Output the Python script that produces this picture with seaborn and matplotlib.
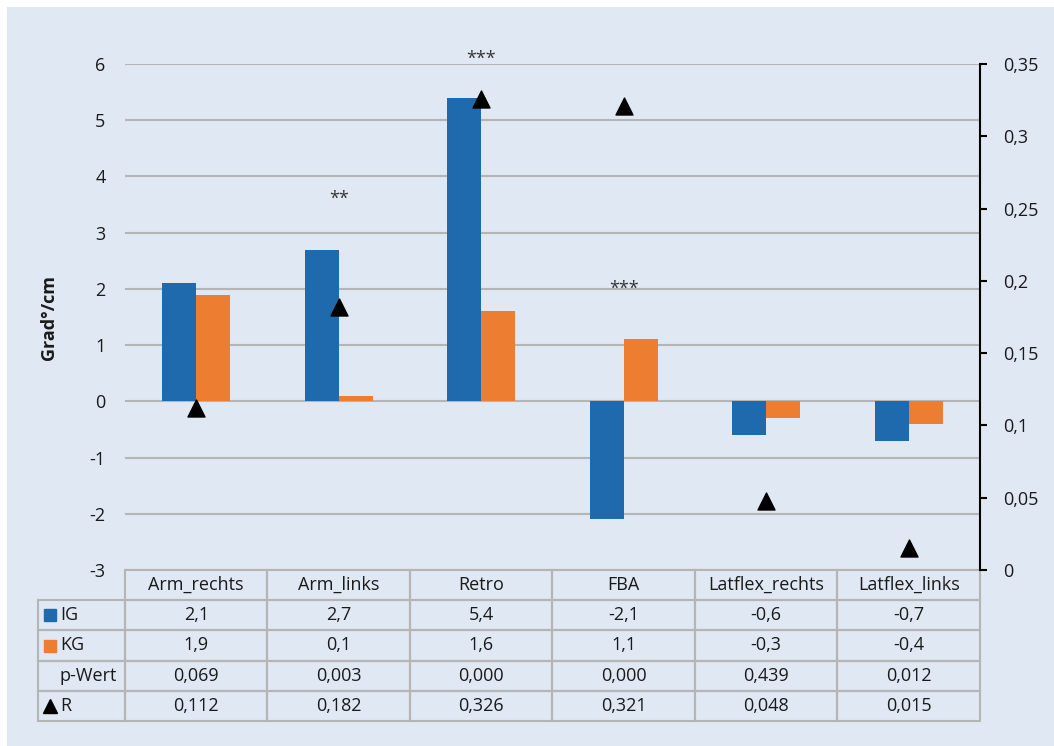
import numpy as np
import pandas as pd
import matplotlib
matplotlib.use("Agg")
import matplotlib.pyplot as plt
from matplotlib.patches import Rectangle
import seaborn as sns

# data
kategorien = ["Arm_rechts", "Arm_links", "Retro", "FBA", "Latflex_rechts", "Latflex_links"]
ig = [2.1, 2.7, 5.4, -2.1, -0.6, -0.7]
kg = [1.9, 0.1, 1.6, 1.1, -0.3, -0.4]
p_wert = [0.069, 0.003, 0.000, 0.000, 0.439, 0.012]
r_wert = [0.112, 0.182, 0.326, 0.321, 0.048, 0.015]
sterne = ["", "**", "***", "***", "", ""]
stern_hoehe = [np.nan, 3.6, 6.1, 2.0, np.nan, np.nan]
zeilen = ["IG", "KG", "p-Wert", "R"]

BG = "#dfe8f3"
BLAU = "#1f69ad"
ORANGE = "#ed7d31"
GRID = "#b5b5b5"
TXT = "#1a1a1a"

sns.set_style("white")
plt.rcParams["font.family"] = ["Open Sans", "DejaVu Sans"]
plt.rcParams["axes.unicode_minus"] = False
plt.rcParams["text.color"] = TXT

df = pd.DataFrame({
    "Kategorie": kategorien * 2,
    "Wert": ig + kg,
    "Gruppe": ["IG"] * len(ig) + ["KG"] * len(kg),
})

W, H = 1054, 746
fig = plt.figure(figsize=(W / 100, H / 100), dpi=100, facecolor="white")
fig.patches.append(Rectangle((7 / W, 0), 1 - 7 / W, 1 - 7 / H, transform=fig.transFigure,
                             facecolor=BG, edgecolor="none", zorder=-10))

left, right, top, bottom = 125, 980, 64, 570
ax = fig.add_axes([left / W, 1 - bottom / H, (right - left) / W, (bottom - top) / H])
ax.set_facecolor("none")

sns.barplot(data=df, x="Kategorie", y="Wert", hue="Gruppe", palette=[BLAU, ORANGE],
            width=0.48, saturation=1, legend=False, ax=ax, zorder=3, linewidth=0)
ax.set_xlim(-0.5, len(kategorien) - 0.5)
ax.set_ylim(-3, 6)
ax.set_yticks(range(-3, 7))
ax.set_yticklabels([str(v) for v in range(-3, 7)], fontsize=13, color=TXT)
ax.tick_params(axis="y", length=0, pad=14)
ax.set_xticks([])
ax.set_xlabel("")
ax.set_ylabel("Grad°/cm", fontsize=13, fontweight="bold", color=TXT)
ax.yaxis.set_label_coords(-0.078, 0.5)
ax.grid(axis="y", color=GRID, linewidth=1.5)
ax.set_axisbelow(True)
for s in ax.spines.values():
    s.set_visible(False)

# significance stars
for i, (st, h) in enumerate(zip(sterne, stern_hoehe)):
    if st:
        ax.text(i, h, st, ha="center", va="center", fontsize=13, color="#333333", clip_on=False)

# secondary axis with R
ax2 = ax.twinx()
pos = np.arange(len(kategorien))
sns.scatterplot(x=pos, y=r_wert, marker="^", s=150, color="black", edgecolor="black",
                ax=ax2, zorder=5, clip_on=False)
ax2.set_ylim(0, 0.35)
rt = np.arange(0, 0.351, 0.05)
ax2.set_yticks(rt)
ax2.set_yticklabels([f"{v:g}".replace(".", ",") for v in rt], fontsize=13, color=TXT)
ax2.tick_params(axis="y", length=5, width=1.5, color="black", direction="out", pad=12)
for k, s in ax2.spines.items():
    s.set_visible(k == "right")
ax2.spines["right"].set_color("black")
ax2.spines["right"].set_linewidth(1.5)
ax2.set_xlim(-0.5, len(kategorien) - 0.5)

# data table below the chart
fmt1 = lambda v: f"{v:.1f}".replace(".", ",")
fmt3 = lambda v: f"{v:.3f}".replace(".", ",")
zellen = [
    [zeilen[0]] + [fmt1(v) for v in ig],
    [zeilen[1]] + [fmt1(v) for v in kg],
    [zeilen[2]] + [fmt3(v) for v in p_wert],
    [zeilen[3]] + [fmt3(v) for v in r_wert],
]
tab_l, tab_b = 38, 721
lab_w = left - tab_l
col_w = (right - left) / len(kategorien)
total_w = right - tab_l
bbox = [(tab_l - left) / (right - left), -(tab_b - bottom) / (bottom - top),
        total_w / (right - left), (tab_b - bottom) / (bottom - top)]
tab = ax.table(cellText=zellen, colLabels=[""] + kategorien,
               colWidths=[lab_w / total_w] + [col_w / total_w] * len(kategorien),
               cellLoc="center", bbox=bbox)
tab.auto_set_font_size(False)
for (r, c), cell in tab.get_celld().items():
    cell.set_facecolor("none")
    cell.set_edgecolor(GRID)
    cell.set_linewidth(1.5)
    cell.get_text().set_fontsize(13)
    cell.get_text().set_color(TXT)
    if c == 0:
        cell.PAD = 0.25
        cell.get_text().set_ha("left")
        cell._loc = "left"
tab[(0, 0)].visible_edges = ""

# legend keys in the table row labels
nrow = len(zeilen) + 1
rh = bbox[3] / nrow
kx = bbox[0] + 12 / (right - left)
for i, (m, col) in enumerate([("s", BLAU), ("s", ORANGE), (None, None), ("^", "black")]):
    if m is None:
        continue
    ky = bbox[1] + bbox[3] - (i + 1.5) * rh
    ax.plot([kx], [ky], marker=m, markersize=9 if m == "s" else 10, color=col,
            linestyle="none", transform=ax.transAxes, clip_on=False)

fig.savefig("out.png", dpi=100, facecolor="white")
